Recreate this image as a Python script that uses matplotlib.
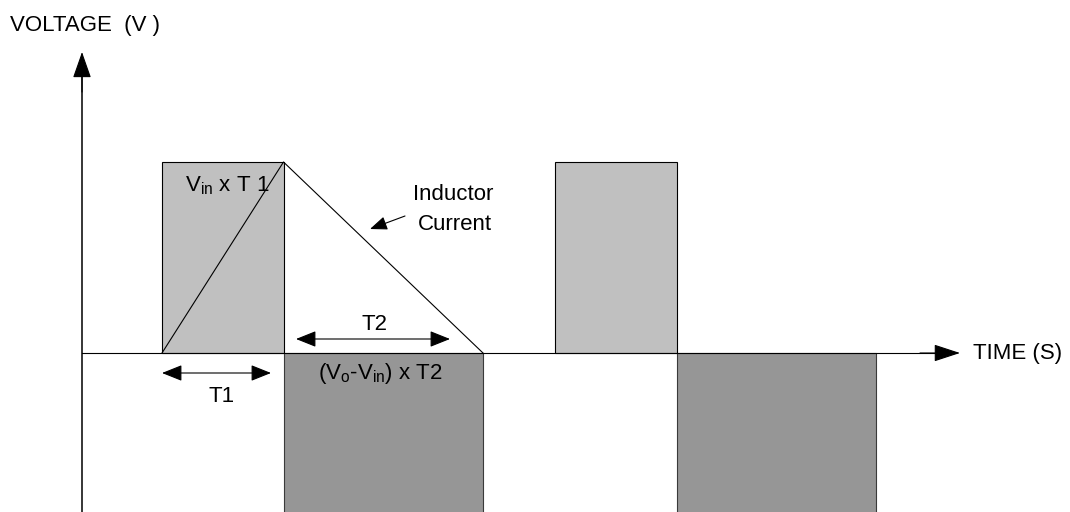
import matplotlib
matplotlib.use("Agg")
import matplotlib.pyplot as plt
from matplotlib.patches import Rectangle, FancyArrowPatch

plt.rcParams['font.family'] = ['Liberation Sans', 'DejaVu Sans']
plt.rcParams['mathtext.fontset'] = 'custom'
plt.rcParams['mathtext.rm'] = 'Liberation Sans'
plt.rcParams['mathtext.it'] = 'Liberation Sans:italic'

# waveform (arbitrary time / voltage units)
pulse_starts = [0.80, 4.73]
T1 = 1.215
T2 = 1.995
v_on = 1.91       # Vin level
v_off = -2.0      # (Vo - Vin) level, runs off the bottom
t_axis_end = 8.78
v_axis_top = 3.01
v_axis_bottom = -1.59

light = '#c0c0c0'
dark = '#969696'
fs = 16

fig = plt.figure(figsize=(10.7, 5.12), dpi=100)
ax = fig.add_axes([0, 0, 1, 1])
ax.set_xlim(-0.82, 9.88)
ax.set_ylim(-1.59, 3.53)
ax.axis('off')

for t0 in pulse_starts:
    ax.add_patch(Rectangle((t0, 0), T1, v_on, facecolor=light,
                           edgecolor='black', lw=0.8, zorder=2))
    ax.add_patch(Rectangle((t0 + T1, 0), T2, v_off, facecolor=dark,
                           edgecolor='#3a3a3a', lw=0.8, zorder=2))

# inductor current (first cycle)
t0 = pulse_starts[0]
ax.plot([t0, t0 + T1, t0 + T1 + T2], [0, v_on, 0], color='black', lw=0.8, zorder=3)

# axes with arrows
ax.plot([0, t_axis_end - 0.2], [0, 0], color='black', lw=0.8, zorder=4)
ax.plot([0, 0], [v_axis_bottom, v_axis_top - 0.2], color='black', lw=1.1, zorder=4)
ax.add_patch(FancyArrowPatch((t_axis_end - 0.4, 0), (t_axis_end, 0),
                             arrowstyle='-|>,head_length=16.5,head_width=5.4',
                             mutation_scale=1, color='black', lw=0.8, zorder=4,
                             shrinkA=0, shrinkB=0))
ax.add_patch(FancyArrowPatch((0, v_axis_top - 0.4), (0, v_axis_top),
                             arrowstyle='-|>,head_length=16.5,head_width=5.8',
                             mutation_scale=1, color='black', lw=0.8, zorder=4,
                             shrinkA=0, shrinkB=0))

ax.text(-0.72, 3.28, 'VOLTAGE  (V )', fontsize=fs, ha='left', va='center')
ax.text(8.91, 0.0, 'TIME (S)', fontsize=fs, ha='left', va='center')

# dimension arrows
dim = '<|-|>,head_length=12.5,head_width=5.0'
ax.add_patch(FancyArrowPatch((t0, -0.20), (t0 + 1.09, -0.20), arrowstyle=dim,
                             mutation_scale=1, color='black', lw=0.8,
                             shrinkA=0, shrinkB=0, zorder=5))
ax.add_patch(FancyArrowPatch((2.14, 0.14), (3.68, 0.14), arrowstyle=dim,
                             mutation_scale=1, color='black', lw=0.8,
                             shrinkA=0, shrinkB=0, zorder=5))
ax.text(1.40, -0.43, 'T1', fontsize=fs, ha='center', va='center')
ax.text(2.93, 0.28, 'T2', fontsize=fs, ha='center', va='center')

ax.text(1.03, 1.67, r'$\mathrm{V_{in}}$ x T 1', fontsize=fs, ha='left', va='center', zorder=5)
ax.text(2.98, -0.21, r'($\mathrm{V_{o}}$-$\mathrm{V_{in}}$) x T2', fontsize=fs,
        ha='center', va='center', zorder=5)

ax.text(3.71, 1.58, 'Inductor', fontsize=fs, ha='center', va='center')
ax.text(3.73, 1.28, 'Current', fontsize=fs, ha='center', va='center')
ax.add_patch(FancyArrowPatch((3.23, 1.37), (2.88, 1.24),
                             arrowstyle='-|>,head_length=10.5,head_width=4.2',
                             mutation_scale=1, color='black', lw=0.8,
                             shrinkA=0, shrinkB=0, zorder=5))

fig.savefig('out.png', dpi=100)
